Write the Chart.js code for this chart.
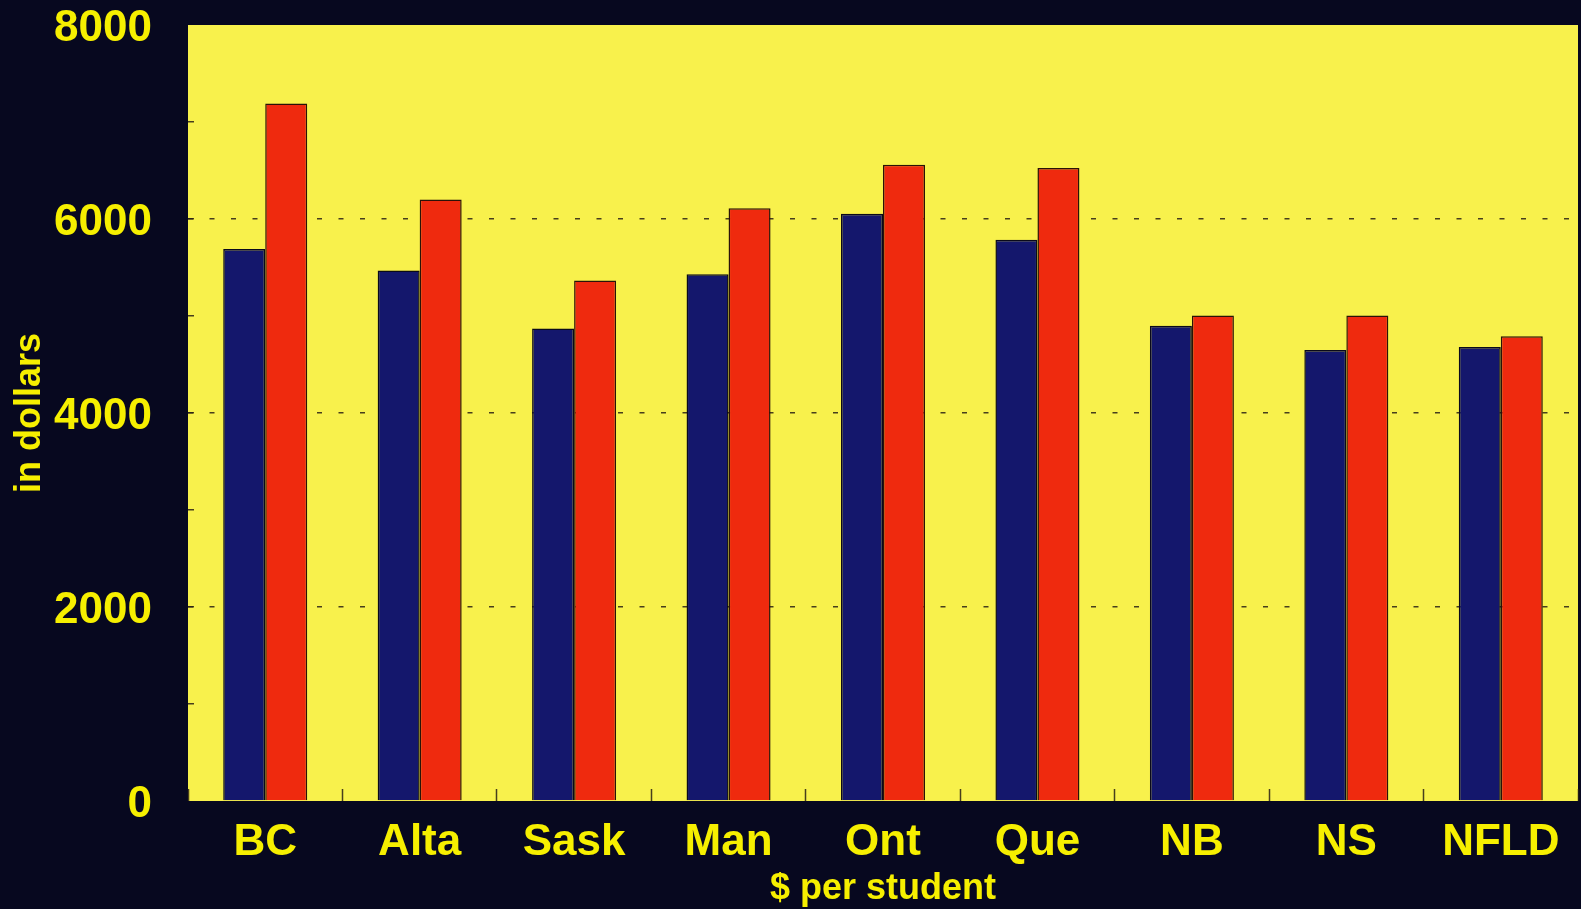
<!DOCTYPE html>
<html>
<head>
<meta charset="utf-8">
<title>$ per student</title>
<script src="https://cdn.jsdelivr.net/npm/chart.js@4/dist/chart.umd.min.js"></script>
<style>
    html, body { margin: 0; padding: 0; background: #07081f; overflow: hidden; }
    canvas { display: block; }
</style>
</head>
<body>
<canvas id="spending-chart" width="1581" height="909"></canvas>
<script>
const provinces = ['BC', 'Alta', 'Sask', 'Man', 'Ont', 'Que', 'NB', 'NS', 'NFLD'];
const navySeries = [5690, 5470, 4870, 5430, 6055, 5785, 4900, 4650, 4680];
const redSeries = [7190, 6200, 5365, 6110, 6560, 6525, 5005, 5005, 4790];
const yLabelled = [0, 2000, 4000, 6000, 8000];
const yDashed = [2000, 4000, 6000];

const textYellow = '#f6ef00';
const inkDark = 'rgba(40, 30, 20, 0.85)';

// navy page + yellow plot panel behind the grid and bars
const panelPlugin = {
    id: 'panel',
    beforeDraw(chart) {
        const { ctx, chartArea: a } = chart;
        ctx.save();
        ctx.fillStyle = '#07081f';
        ctx.fillRect(0, 0, chart.width, chart.height);
        ctx.fillStyle = '#f8f14c';
        ctx.fillRect(a.left, a.top, a.right - a.left, a.bottom - a.top);
        ctx.restore();
    }
};

const ctx = document.getElementById('spending-chart').getContext('2d');
new Chart(ctx, {
    type: 'bar',
    data: {
        labels: provinces,
        datasets: [{
            label: 'Series A',
            data: navySeries,
            backgroundColor: '#14176c',
            borderColor: '#0a0a1a',
            borderWidth: 1.5,
        }, {
            label: 'Series B',
            data: redSeries,
            backgroundColor: '#ef2a0e',
            borderColor: '#2a1208',
            borderWidth: 1.5,
        }]
    },
    options: {
        responsive: false,
        devicePixelRatio: 1,
        animation: false,
        layout: { padding: { top: 0, right: 3, left: 0, bottom: 0 } },
        datasets: { bar: { barPercentage: 1, categoryPercentage: 0.544 } },
        plugins: {
            legend: { display: false },
            tooltip: { enabled: false }
        },
        scales: {
            x: {
                border: { display: false },
                grid: {
                    offset: true,
                    drawOnChartArea: false,
                    tickLength: -12,
                    tickColor: inkDark,
                    tickWidth: 1.5
                },
                ticks: {
                    color: textYellow,
                    padding: 27,
                    font: { family: "'Liberation Sans', Arial, sans-serif", size: 44, weight: 'bold' }
                },
                title: {
                    display: true,
                    text: '$ per student',
                    color: textYellow,
                    padding: { top: 0, bottom: 1.5 },
                    font: { family: "'Liberation Sans', Arial, sans-serif", size: 36, weight: 'bold', lineHeight: 1 }
                },
                afterFit: scale => {
                    scale.height = 108;
                    scale.paddingLeft = 0;
                    scale.paddingRight = 0;
                }
            },
            y: {
                min: 0,
                max: 8000,
                border: { display: false, dash: [5, 16.5] },
                grid: {
                    color: c => yDashed.includes(c.tick.value) ? inkDark : 'rgba(0,0,0,0)',
                    lineWidth: 1.5,
                    tickLength: -6,
                    tickColor: c => c.tick.value === 8000 || c.tick.value === 0 ? 'rgba(0,0,0,0)' : inkDark,
                    tickWidth: 1.5,
                    tickBorderDash: []
                },
                ticks: {
                    stepSize: 1000,
                    color: textYellow,
                    padding: 42,
                    labelOffset: 4,
                    callback: v => yLabelled.includes(v) ? String(v) : '',
                    font: { family: "'Liberation Sans', Arial, sans-serif", size: 44, weight: 'bold' }
                },
                title: {
                    display: true,
                    text: 'in dollars',
                    color: textYellow,
                    padding: { top: 8, bottom: 0 },
                    font: { family: "'Liberation Sans', Arial, sans-serif", size: 36, weight: 'bold' }
                },
                afterFit: scale => {
                    scale.width = 188;
                    scale.paddingTop = 25;
                    scale.paddingBottom = 0;
                }
            }
        }
    },
    plugins: [panelPlugin]
});
</script>
</body>
</html>
